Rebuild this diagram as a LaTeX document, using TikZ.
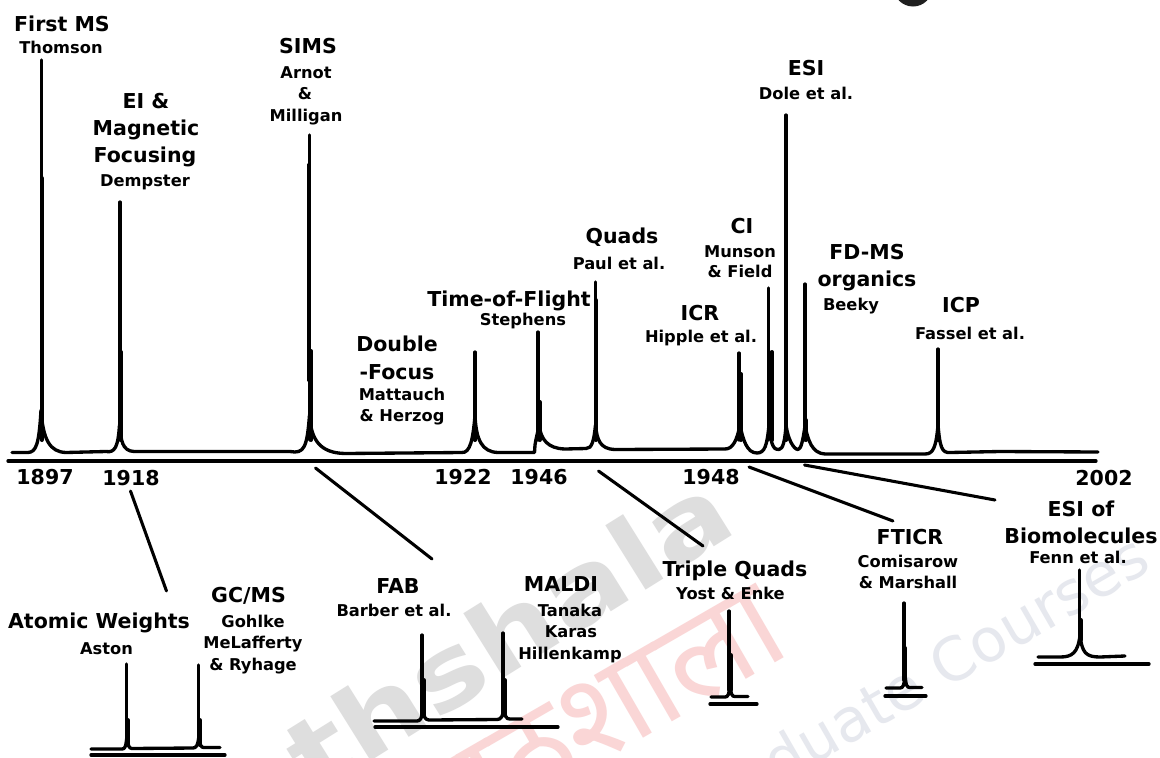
\documentclass[tikz,border=0pt]{standalone}
\usepackage{fontspec}
\setmainfont{DejaVu Sans}
\newfontfamily\devafont[Script=Devanagari]{Noto Sans}
\definecolor{wmgray}{HTML}{DEDEDE}
\definecolor{wmred}{HTML}{FAD6D6}
\definecolor{wmblue}{HTML}{E6E8EE}
\tikzset{
  ttl/.style={font=\fontsize{15.4}{15.4}\selectfont\bfseries,inner sep=0pt,anchor=base,text=black},
  sbt/.style={font=\fontsize{12.2}{12.2}\selectfont\bfseries,inner sep=0pt,anchor=base,text=black},
  curve/.style={line width=2.5pt,line cap=round,line join=round,black},
  peakthin/.style={line width=2.4pt,line cap=round,black},
  peakthick/.style={line width=3pt,line cap=round,black},
  rule/.style={line width=2.5pt,line cap=round,black},
  link/.style={line width=2.3pt,line cap=round,black}
}
\newcommand{\ttlat}[4]{\node[ttl] (#1) at (#2,#3+7) {#4};}
\newcommand{\sbtat}[4]{\node[sbt] (#1) at (#2,#3+5.5) {#4};}
\newcommand{\pkat}[4]{%
  \draw[peakthin] (#1,#2) -- (#1,440);
  \draw[peakthick] (#3,#4) -- (#3,440);}
\begin{document}
\begin{tikzpicture}[x=0.75pt,y=-0.75pt]
\useasboundingbox (0,0) rectangle (1160,757);
\fill[white] (0,0) rectangle (1160,757);
\begin{scope}
  \clip (0,0) rectangle (1160,757);
  \node[rotate=32,anchor=base west,inner sep=0pt,text=wmgray,font=\fontsize{75}{75}\selectfont\bfseries] (wmA) at (314,797) {\scalebox{1.2}[1]{thshala}};
  \node[rotate=30,anchor=base west,inner sep=0pt,text=wmred,font=\fontsize{95}{95}\selectfont\devafont\bfseries] (wmB) at (433,860) {पाठशाला};
  \node[rotate=30,anchor=base west,inner sep=0pt,text=wmblue,font=\fontsize{45}{45}\selectfont] (wmC) at (685,840) {Graduate Courses};
  \fill[black!88] (913,-13) circle[radius=19.5];
\end{scope}

% main spectrum baseline
\draw[curve] (12,452.5) -- (28,452.5)
  .. controls (36,452) and (39,445) .. (41,410)
  .. controls (43,440) and (50,452) .. (66,452.5) -- (106,451.5)
  .. controls (115,453) and (118,447) .. (119.5,425)
  .. controls (121,440) and (122,451) .. (134,451.5) -- (290,451.5)
  .. controls (304,454) and (307,448) .. (309.5,415)
  .. controls (311,440) and (320,453) .. (345,453.5) -- (462,452.5)
  .. controls (470,453) and (473,440) .. (475,415)
  .. controls (476,440) and (482,452) .. (498,452.5) -- (534.5,452.5)
  -- (535,445) .. controls (536,438) and (538,432) .. (539,425)
  .. controls (541,440) and (548,448.5) .. (565,449) -- (586,448.5)
  .. controls (592,449) and (594,440) .. (595.5,425)
  .. controls (597,440) and (600,449) .. (615,449.5) -- (725,449)
  .. controls (733,449) and (737,440) .. (740,425)
  .. controls (743,440) and (747,453) .. (757,453)
  .. controls (765,453) and (767,445) .. (769,425)
  .. controls (771,449) and (775,449.5) .. (779,449.5)
  .. controls (783,449.5) and (785,440) .. (786,425)
  .. controls (788,440) and (794,449.5) .. (798,449.5)
  .. controls (801,449.5) and (803,440) .. (805,426)
  .. controls (808,440) and (812,453.5) .. (825,454) -- (925,454)
  .. controls (933,454) and (936,448) .. (938,425)
  .. controls (940,448) and (942,453) .. (950,452.5) -- (1000,451.5) -- (1098,452);
\draw[rule] (8,461) -- (1096,461);

% main peaks
\pkat{41.5}{60}{41.5}{178}
\pkat{120}{202}{121}{352}
\pkat{309.5}{135}{311}{351}
\draw[peakthick] (308.5,165) -- (308.5,380);
\pkat{475}{352}{475}{372}
\pkat{538}{332}{539.5}{402}
\pkat{595.5}{282}{595.5}{300}
\pkat{739}{353}{741}{374}
\pkat{768.5}{288}{772}{352}
\draw[peakthick] (768.5,352) -- (768.5,430);
\pkat{786}{115}{786}{425}
\pkat{805}{284}{805.5}{420}
\pkat{938}{349}{938}{400}

% lower spectra
\draw[curve] (91,749) -- (122,749) .. controls (125,749) and (126,747) .. (127,735)
  .. controls (128,747) and (129,748) .. (132,748.5) -- (193,748)
  .. controls (196,748) and (198,746) .. (199,735) .. controls (200,746) and (201,747.5) .. (204,747.5) -- (220,747.5);
\draw[peakthin] (126.5,664) -- (126.5,740);
\draw[peakthick] (127.5,720) -- (127.5,745);
\draw[peakthin] (198.5,665) -- (198.5,740);
\draw[peakthick] (199.5,720) -- (199.5,745);
\draw[rule] (91,755) -- (225,755);

\draw[curve] (374,721) -- (417,721) .. controls (420,721) and (422,719) .. (423,708)
  .. controls (424,718) and (425,719.5) .. (429,720) -- (497,719.5)
  .. controls (501,719.5) and (503,717) .. (504,706) .. controls (505,717) and (506,719) .. (510,719) -- (522,719);
\draw[peakthin] (422,635) -- (422,715);
\draw[peakthick] (423.5,680) -- (423.5,715);
\draw[peakthin] (503,633) -- (503,715);
\draw[peakthick] (504.5,680) -- (504.5,715);
\draw[rule] (375,727) -- (558,727);

\draw[curve] (711,697) -- (725,697) .. controls (728,697) and (729,695) .. (730,684)
  .. controls (731,695) and (732,696.5) .. (735,696.5) -- (748,696.5);
\draw[peakthin] (729,611) -- (729,690);
\draw[peakthick] (730.5,655) -- (730.5,690);
\draw[rule] (710,704) -- (757,704);

\draw[curve] (886,688) -- (900,688) .. controls (903,688) and (904,686) .. (905,675)
  .. controls (906,686) and (907,687.5) .. (910,687.5) -- (922,687.5);
\draw[peakthin] (904,603) -- (904,680);
\draw[peakthick] (905,648) -- (905,680);
\draw[rule] (885,696) -- (926,696);

\draw[curve] (1038,657) -- (1060,657) .. controls (1072,657) and (1078,653) .. (1080,635)
  .. controls (1082,653) and (1086,657) .. (1100,657) -- (1125,656);
\draw[peakthin] (1079.5,570) -- (1079.5,640);
\draw[peakthick] (1080.5,620) -- (1080.5,640);
\draw[rule] (1035,664) -- (1149,664);

% connectors
\coordinate (a1) at (130.5,491); \coordinate (a2) at (166.5,591);
\coordinate (b1) at (315.5,468); \coordinate (b2) at (432,559);
\coordinate (c1) at (598.5,471); \coordinate (c2) at (703,546);
\coordinate (d1) at (749,467); \coordinate (d2) at (893,521);
\coordinate (e1) at (804.5,465); \coordinate (e2) at (995,500);
\draw[link] (a1) -- (a2);
\draw[link] (b1) -- (b2);
\draw[link] (c1) -- (c2);
\draw[link] (d1) -- (d2);
\draw[link] (e1) -- (e2);

% upper labels
\ttlat{firstms}{62}{24}{First MS}
\sbtat{thomson}{61}{48}{Thomson}
\ttlat{ei}{146}{101}{EI \&}
\ttlat{magnetic}{146}{128}{Magnetic}
\ttlat{focusing}{145}{155}{Focusing}
\sbtat{dempster}{145}{181}{Dempster}
\ttlat{sims}{308}{46}{SIMS}
\sbtat{arnot}{306}{73}{Arnot}
\sbtat{amp}{305}{94}{\&}
\sbtat{milligan}{306}{116}{Milligan}
\ttlat{double}{397}{344}{Double}
\ttlat{dfocus}{397}{372}{-Focus}
\sbtat{mattauch}{402}{395}{Mattauch}
\sbtat{herzog}{402}{416}{\& Herzog}
\ttlat{tof}{509}{299}{Time-of-Flight}
\sbtat{stephens}{523}{320}{Stephens}
\ttlat{quads}{622}{236}{Quads}
\sbtat{paul}{619}{264}{Paul et al.}
\ttlat{icr}{700}{313}{ICR}
\sbtat{hipple}{701}{337}{Hipple et al.}
\ttlat{ci}{742}{226}{CI}
\sbtat{munson}{740}{252}{Munson}
\sbtat{field}{740}{272}{\& Field}
\ttlat{esi}{806}{68}{ESI}
\sbtat{dole}{806}{94}{Dole et al.}
\ttlat{fdms}{867}{252}{FD-MS}
\ttlat{organics}{867}{279}{organics}
\sbtat{beeky}{851}{305}{Beeky}
\ttlat{icp}{961}{305}{ICP}
\sbtat{fassel}{970}{334}{Fassel et al.}

% years
\ttlat{yA}{45}{477}{1897}
\ttlat{yB}{131}{478}{1918}
\ttlat{yC}{463}{477}{1922}
\ttlat{yD}{539}{477}{1946}
\ttlat{yE}{711}{477}{1948}
\ttlat{yF}{1104}{478}{2002}

% lower labels
\ttlat{atomic}{99}{621}{Atomic Weights}
\sbtat{aston}{106.5}{649}{Aston}
\ttlat{gcms}{248.5}{595}{GC/MS}
\sbtat{gohlke}{253}{622}{Gohlke}
\sbtat{mclaf}{253}{643}{MeLafferty}
\sbtat{ryhage}{253}{665}{\& Ryhage}
\ttlat{fab}{398}{586}{FAB}
\sbtat{barber}{394}{611}{Barber et al.}
\ttlat{maldi}{561}{584}{MALDI}
\sbtat{tanaka}{570}{611}{Tanaka}
\sbtat{karas}{571}{632}{Karas}
\sbtat{hillen}{570}{654}{Hillenkamp}
\ttlat{triple}{735}{569}{Triple Quads}
\sbtat{yost}{730.5}{594}{Yost \& Enke}
\ttlat{fticr}{910}{537}{FTICR}
\sbtat{comis}{908}{562}{Comisarow}
\sbtat{marshall}{908}{583}{\& Marshall}
\ttlat{esiof}{1081}{509}{ESI of}
\ttlat{biomol}{1081}{536}{Biomolecules}
\sbtat{fenn}{1078}{558}{Fenn et al.}
\end{tikzpicture}
\end{document}
